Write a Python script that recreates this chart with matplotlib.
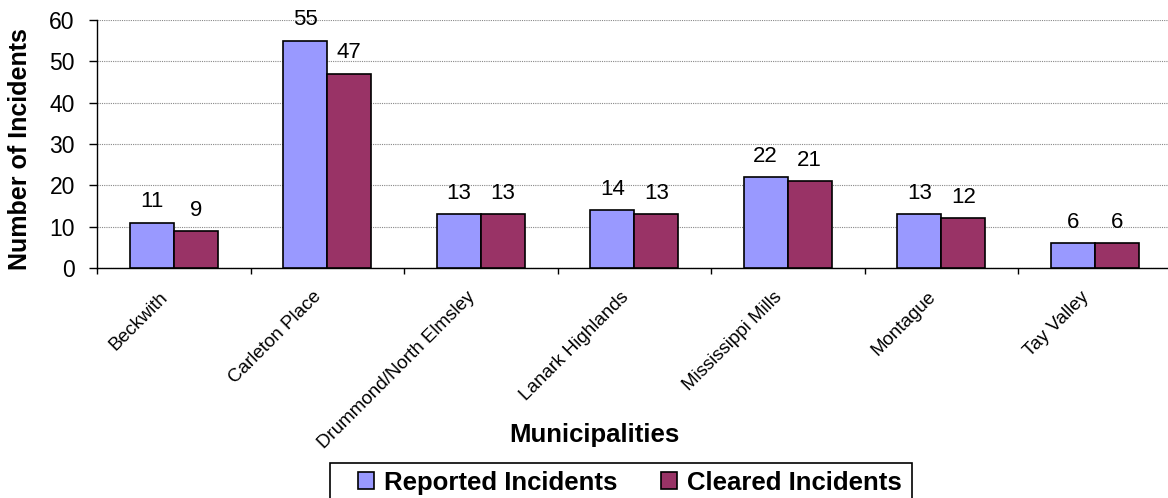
import matplotlib.pyplot as plt
from matplotlib.patches import Rectangle
import numpy as np

# municipalities and incident counts
municipalities = ['Beckwith', 'Carleton Place', 'Drummond/North Elmsley', 'Lanark Highlands',
                  'Mississippi Mills', 'Montague', 'Tay Valley']
reported = [11, 55, 13, 14, 22, 13, 6]
cleared = [9, 47, 13, 13, 21, 12, 6]

plt.rcParams['font.family'] = ['Liberation Sans', 'DejaVu Sans']

fig = plt.figure(figsize=(11.68, 4.98), dpi=100)
ax = fig.add_axes([97 / 1168, 1 - 268 / 498, 1 - 97 / 1168, 248 / 498])

x = np.arange(len(municipalities))
w = 0.287
b1 = ax.bar(x - w / 2, reported, w, color='#9999FF', edgecolor='black', linewidth=1.2,
            label='Reported Incidents', zorder=3)
b2 = ax.bar(x + w / 2, cleared, w, color='#993366', edgecolor='black', linewidth=1.2,
            label='Cleared Incidents', zorder=3)

# value labels above each bar
for bars in (b1, b2):
    for r in bars:
        ax.annotate(str(int(r.get_height())), (r.get_x() + r.get_width() / 2, r.get_height()),
                    xytext=(0, 11), textcoords='offset points', ha='center', va='baseline',
                    fontsize=16)

ax.set_xlim(-0.5, 6.477)
ax.set_ylim(0, 60)
ax.set_yticks(range(0, 61, 10))
ax.tick_params(axis='y', labelsize=16.5, length=6, width=1, direction='out', pad=10)
ax.yaxis.grid(True, linestyle=(0, (1, 1)), color='#888888', linewidth=0.8, zorder=0)

# tick marks at category boundaries, rotated names placed by hand
ax.set_xticks(np.arange(-0.5, len(municipalities) - 0.5, 1))
ax.set_xticklabels([])
ax.tick_params(axis='x', length=4, width=1, direction='out')
for xi, name in zip(x, municipalities):
    ax.annotate(name, xy=(xi, 0), xycoords=('data', 'axes fraction'), xytext=(-6, -19),
                textcoords='offset points', rotation=45, ha='right', va='center',
                rotation_mode='anchor', fontsize=13.5)

for s in ['top', 'right']:
    ax.spines[s].set_visible(False)
ax.spines['left'].set_linewidth(1)
ax.spines['bottom'].set_linewidth(1)

ax.set_ylabel('Number of Incidents', fontsize=18, fontweight='bold')
ax.yaxis.set_label_coords(-0.061, 0.48)
ax.set_xlabel('Municipalities', fontsize=18.5, fontweight='bold')
ax.xaxis.set_label_coords(0.464, -0.625)

# legend without its own frame, box drawn separately
leg = fig.legend(handles=[b1, b2], loc='center left', bbox_to_anchor=(345 / 1168, 0.031),
                 ncol=2, frameon=False, handlelength=0.62, handleheight=0.62,
                 columnspacing=1.7, borderpad=0, handletextpad=0.4,
                 prop={'weight': 'bold', 'size': 18.5})
fig.patches.append(Rectangle((330 / 1168, -0.02), (912 - 330) / 1168, 0.02 + 35 / 498,
                             transform=fig.transFigure, fill=False, edgecolor='black',
                             linewidth=1.2))

fig.savefig('out.png', dpi=100)
